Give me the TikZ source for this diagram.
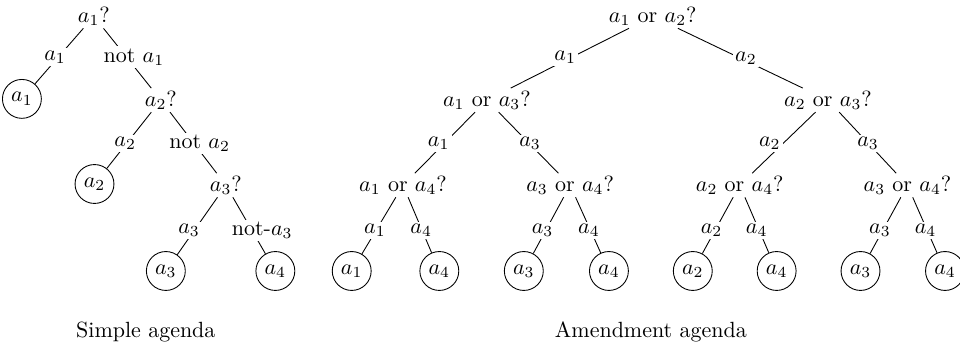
\documentclass[tikz,border=0pt]{standalone}
\begin{document}
\begin{tikzpicture}[
    q/.style={inner sep=1pt},
    lab/.style={fill=white,inner sep=1pt},
    leaf/.style={draw,circle,inner sep=2.3pt}]
  \useasboundingbox (0,0) rectangle (15.34,5.56);
  % simple agenda
  \node[q] (s1) at (1.50,5.30) {$a_1$?};
  \node[q] (s2) at (2.57,3.96) {$a_2$?};
  \node[q] (s3) at (3.61,2.60) {$a_3$?};
  \node[leaf] (sc1) at (0.35,3.98) {$a_1$};
  \node[leaf] (sc2) at (1.51,2.62) {$a_2$};
  \node[leaf] (sc3) at (2.65,1.23) {$a_3$};
  \node[leaf] (sc4) at (4.40,1.23) {$a_4$};
  \draw (s1) -- (sc1);
  \draw (s1) -- (s2);
  \draw (s2) -- (sc2);
  \draw (s2) -- (s3);
  \draw (s3) -- (sc3);
  \draw (s3) -- (sc4);
  \node[lab] (sl1) at (0.88,4.65) {$a_1$};
  \node[lab] (sl2) at (2.14,4.65) {not $a_1$};
  \node[lab] (sl3) at (2.00,3.27) {$a_2$};
  \node[lab] (sl4) at (3.19,3.27) {not $a_2$};
  \node[lab] (sl5) at (3.02,1.88) {$a_3$};
  \node[lab] (sl6) at (4.19,1.88) {not-$a_3$};
  \node (cap1) at (2.33,0.26) {Simple agenda};
  % amendment agenda
  \node[q] (r0) at (10.43,5.30) {$a_1$ or $a_2$?};
  \node[q] (r1) at (7.78,3.96) {$a_1$ or $a_3$?};
  \node[q] (r2) at (13.23,3.96) {$a_2$ or $a_3$?};
  \node[q] (r11) at (6.44,2.60) {$a_1$ or $a_4$?};
  \node[q] (r12) at (9.11,2.60) {$a_3$ or $a_4$?};
  \node[q] (r21) at (11.82,2.60) {$a_2$ or $a_4$?};
  \node[q] (r22) at (14.50,2.60) {$a_3$ or $a_4$?};
  \node[leaf] (rc1) at (5.62,1.23) {$a_1$};
  \node[leaf] (rc2) at (7.02,1.23) {$a_4$};
  \node[leaf] (rc3) at (8.37,1.23) {$a_3$};
  \node[leaf] (rc4) at (9.73,1.23) {$a_4$};
  \node[leaf] (rc5) at (11.07,1.23) {$a_2$};
  \node[leaf] (rc6) at (12.41,1.23) {$a_4$};
  \node[leaf] (rc7) at (13.75,1.23) {$a_3$};
  \node[leaf] (rc8) at (15.10,1.23) {$a_4$};
  \draw (r0) -- (r1);
  \draw (r0) -- (r2);
  \draw (r1) -- (r11);
  \draw (r1) -- (r12);
  \draw (r2) -- (r21);
  \draw (r2) -- (r22);
  \draw (r11) -- (rc1);
  \draw (r11) -- (rc2);
  \draw (r12) -- (rc3);
  \draw (r12) -- (rc4);
  \draw (r21) -- (rc5);
  \draw (r21) -- (rc6);
  \draw (r22) -- (rc7);
  \draw (r22) -- (rc8);
  \node[lab] (rl1) at (9.03,4.65) {$a_1$};
  \node[lab] (rl2) at (11.92,4.63) {$a_2$};
  \node[lab] (rl11) at (7.01,3.27) {$a_1$};
  \node[lab] (rl12) at (8.47,3.27) {$a_3$};
  \node[lab] (rl21) at (12.30,3.27) {$a_2$};
  \node[lab] (rl22) at (13.87,3.27) {$a_3$};
  \node[lab] (rl111) at (5.99,1.88) {$a_1$};
  \node[lab] (rl112) at (6.73,1.88) {$a_4$};
  \node[lab] (rl121) at (8.67,1.88) {$a_3$};
  \node[lab] (rl122) at (9.41,1.88) {$a_4$};
  \node[lab] (rl211) at (11.37,1.88) {$a_2$};
  \node[lab] (rl212) at (12.09,1.88) {$a_4$};
  \node[lab] (rl221) at (14.06,1.88) {$a_3$};
  \node[lab] (rl222) at (14.79,1.88) {$a_4$};
  \node (cap2) at (10.40,0.26) {Amendment agenda};
\end{tikzpicture}
\end{document}
